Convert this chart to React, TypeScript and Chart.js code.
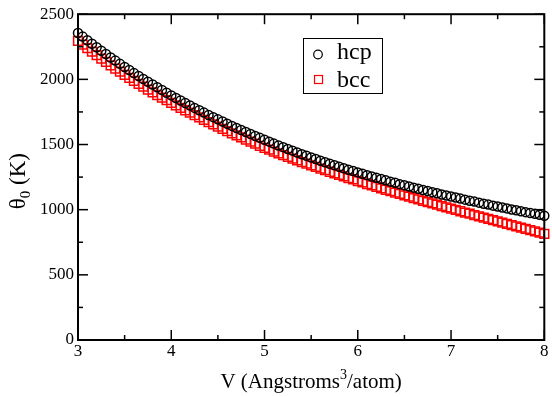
import React, { useEffect, useRef } from "react";
import { Chart, registerables } from "chart.js";

Chart.register(...registerables);

// ---- data ----
const volumes = [
  3.0, 3.05, 3.1, 3.15, 3.2, 3.25, 3.3, 3.35, 3.4, 3.45, 3.5,
  3.55, 3.6, 3.65, 3.7, 3.75, 3.8, 3.85, 3.9, 3.95, 4.0,
  4.05, 4.1, 4.15, 4.2, 4.25, 4.3, 4.35, 4.4, 4.45, 4.5,
  4.55, 4.6, 4.65, 4.7, 4.75, 4.8, 4.85, 4.9, 4.95, 5.0,
  5.05, 5.1, 5.15, 5.2, 5.25, 5.3, 5.35, 5.4, 5.45, 5.5,
  5.55, 5.6, 5.65, 5.7, 5.75, 5.8, 5.85, 5.9, 5.95, 6.0,
  6.05, 6.1, 6.15, 6.2, 6.25, 6.3, 6.35, 6.4, 6.45, 6.5,
  6.55, 6.6, 6.65, 6.7, 6.75, 6.8, 6.85, 6.9, 6.95, 7.0,
  7.05, 7.1, 7.15, 7.2, 7.25, 7.3, 7.35, 7.4, 7.45, 7.5,
  7.55, 7.6, 7.65, 7.7, 7.75, 7.8, 7.85, 7.9, 7.95, 8.0,
];

const hcpTheta = [
  2356, 2328, 2300, 2273, 2246, 2220, 2194, 2168, 2144, 2119, 2095,
  2072, 2048, 2026, 2003, 1981, 1960, 1939, 1918, 1897, 1877,
  1857, 1838, 1819, 1800, 1781, 1763, 1745, 1727, 1710, 1693,
  1676, 1660, 1643, 1627, 1611, 1596, 1581, 1565, 1551, 1536,
  1522, 1507, 1493, 1480, 1466, 1453, 1439, 1426, 1414, 1401,
  1389, 1376, 1364, 1353, 1341, 1330, 1318, 1307, 1297, 1286,
  1276, 1265, 1255, 1245, 1235, 1225, 1215, 1206, 1196, 1187,
  1178, 1169, 1160, 1151, 1143, 1134, 1126, 1117, 1109, 1101,
  1093, 1085, 1077, 1069, 1062, 1054, 1046, 1039, 1031, 1024,
  1017, 1010, 1002, 995, 988, 981, 974, 968, 961, 954,
];

const bccTheta = [
  2295, 2267, 2239, 2212, 2186, 2159, 2134, 2108, 2083, 2059, 2035,
  2012, 1989, 1966, 1944, 1922, 1901, 1880, 1860, 1840, 1820,
  1801, 1782, 1763, 1744, 1726, 1708, 1690, 1672, 1654, 1637,
  1620, 1603, 1586, 1570, 1554, 1537, 1522, 1506, 1490, 1475,
  1461, 1446, 1432, 1419, 1405, 1392, 1378, 1365, 1353, 1340,
  1328, 1315, 1303, 1291, 1279, 1267, 1255, 1243, 1232, 1220,
  1209, 1197, 1186, 1175, 1164, 1153, 1142, 1131, 1121, 1110,
  1100, 1089, 1079, 1068, 1058, 1048, 1038, 1028, 1018, 1008,
  998, 988, 978, 969, 959, 949, 939, 929, 920, 910,
  900, 891, 881, 872, 862, 853, 843, 834, 824, 815,
];

const seriesLabels = ["hcp", "bcc"];
const xMajorTicks = [3, 4, 5, 6, 7, 8];
const xMinorTicks = [3.5, 4.5, 5.5, 6.5, 7.5];
const yMajorTicks = [0, 500, 1000, 1500, 2000, 2500];
const yMinorTicks = [250, 750, 1250, 1750, 2250];

const SERIF = "'Liberation Serif', 'Times New Roman', serif";
Chart.defaults.font.family = SERIF;

const decorPlugin = {
  id: "decor",
  afterDatasetsDraw(chart: any) {
    const { ctx, chartArea, scales } = chart;
    const { left, right, top, bottom } = chartArea;
    const xs = scales.x;
    const ys = scales.y;
    ctx.save();
    ctx.strokeStyle = "#000";
    ctx.lineWidth = 2;
    ctx.strokeRect(left, top, right - left, bottom - top);

    ctx.lineWidth = 1.5;
    const tick = (x1: number, y1: number, x2: number, y2: number) => {
      ctx.beginPath();
      ctx.moveTo(x1, y1);
      ctx.lineTo(x2, y2);
      ctx.stroke();
    };
    const MAJ = 10;
    const MIN = 5;
    xMajorTicks.forEach((v) => {
      const px = xs.getPixelForValue(v);
      tick(px, bottom, px, bottom - MAJ);
      tick(px, top, px, top + MAJ);
    });
    xMinorTicks.forEach((v) => {
      const px = xs.getPixelForValue(v);
      tick(px, bottom, px, bottom - MIN);
      tick(px, top, px, top + MIN);
    });
    yMajorTicks.forEach((v) => {
      const py = ys.getPixelForValue(v);
      tick(left, py, left + MAJ, py);
      tick(right, py, right - MAJ, py);
    });
    yMinorTicks.forEach((v) => {
      const py = ys.getPixelForValue(v);
      tick(left, py, left + MIN, py);
      tick(right, py, right - MIN, py);
    });

    // legend box
    const lx = 303, ly = 38, lw = 79, lh = 55;
    ctx.fillStyle = "#fff";
    ctx.fillRect(lx, ly, lw, lh);
    ctx.lineWidth = 1;
    ctx.strokeStyle = "#000";
    ctx.strokeRect(lx + 0.5, ly + 0.5, lw, lh);

    // legend symbols
    ctx.lineWidth = 1.2;
    ctx.beginPath();
    ctx.arc(318, 54.5, 4.3, 0, Math.PI * 2);
    ctx.strokeStyle = "#000";
    ctx.stroke();
    ctx.strokeStyle = "#ff0000";
    ctx.strokeRect(314.5, 75.5, 8, 8);

    ctx.fillStyle = "#000";
    ctx.font = `24px ${SERIF}`;
    ctx.textAlign = "left";
    ctx.textBaseline = "alphabetic";
    ctx.fillText(seriesLabels[0], 337, 58.5);
    ctx.fillText(seriesLabels[1], 337, 86.5);

    // x axis title with superscript
    const big = `21px ${SERIF}`;
    const small = `14px ${SERIF}`;
    const partA = "V (Angstroms";
    const sup = "3";
    const partB = "/atom)";
    ctx.font = big;
    const wA = ctx.measureText(partA).width;
    const wB = ctx.measureText(partB).width;
    ctx.font = small;
    const wS = ctx.measureText(sup).width;
    const total = wA + wS + wB;
    const cx = (left + right) / 2;
    let sx = cx - total / 2;
    const baseY = 388;
    ctx.font = big;
    ctx.fillText(partA, sx, baseY);
    sx += wA;
    ctx.font = small;
    ctx.fillText(sup, sx, baseY - 9);
    sx += wS;
    ctx.font = big;
    ctx.fillText(partB, sx, baseY);

    // y axis title with subscript
    ctx.save();
    ctx.translate(25, (top + bottom) / 2 + 4);
    ctx.rotate(-Math.PI / 2);
    const t1 = "\u03b8";
    const t2 = "0";
    const t3 = " (K)";
    ctx.font = `23px ${SERIF}`;
    const w1 = ctx.measureText(t1).width;
    const w3 = ctx.measureText(t3).width;
    ctx.font = `15px ${SERIF}`;
    const w2 = ctx.measureText(t2).width;
    let tx = -(w1 + w2 + w3) / 2;
    ctx.font = `23px ${SERIF}`;
    ctx.fillText(t1, tx, 0);
    tx += w1;
    ctx.font = `15px ${SERIF}`;
    ctx.fillText(t2, tx, 5);
    tx += w2;
    ctx.font = `23px ${SERIF}`;
    ctx.fillText(t3, tx, 0);
    ctx.restore();

    ctx.restore();
  },
};

export default function App() {
  const canvasRef = useRef<HTMLCanvasElement | null>(null);

  useEffect(() => {
    const canvas = canvasRef.current;
    if (!canvas) return;
    const chart = new Chart(canvas, {
      type: "scatter",
      data: {
        datasets: [
          {
            label: seriesLabels[0],
            data: volumes.map((v, i) => ({ x: v, y: hcpTheta[i] })),
            pointStyle: "circle",
            pointRadius: 4.5,
            borderWidth: 1.5,
            borderColor: "#000",
            backgroundColor: "rgba(0,0,0,0)",
            showLine: false,
            clip: false,
          },
          {
            label: seriesLabels[1],
            data: volumes.map((v, i) => ({ x: v, y: bccTheta[i] })),
            pointStyle: "rect",
            pointRadius: 6.2,
            borderWidth: 1.5,
            borderColor: "#ff0000",
            backgroundColor: "rgba(0,0,0,0)",
            showLine: false,
            clip: false,
          },
        ],
      },
      options: {
        animation: false,
        responsive: true,
        maintainAspectRatio: false,
        layout: { padding: { top: 11, right: 5, bottom: 0, left: 0 } },
        plugins: {
          legend: { display: false },
          tooltip: { enabled: false },
        },
        scales: {
          x: {
            type: "linear",
            min: 3,
            max: 8,
            afterBuildTicks: (scale: any) => {
              scale.ticks = xMajorTicks.map((v) => ({ value: v }));
            },
            afterFit: (scale: any) => {
              scale.height = 57;
            },
            grid: { display: false, drawTicks: false },
            border: { display: false },
            ticks: {
              color: "#000",
              padding: 1,
              font: { family: SERIF, size: 17 },
              callback: (v: any) => String(v),
            },
          },
          y: {
            type: "linear",
            min: 0,
            max: 2500,
            afterBuildTicks: (scale: any) => {
              scale.ticks = yMajorTicks.map((v) => ({ value: v }));
            },
            afterFit: (scale: any) => {
              scale.width = 78;
            },
            grid: { display: false, drawTicks: false },
            border: { display: false },
            ticks: {
              color: "#000",
              padding: 4,
              font: { family: SERIF, size: 17 },
              callback: (v: any) => String(v),
            },
          },
        },
      },
      plugins: [decorPlugin],
    } as any);
    return () => chart.destroy();
  }, []);

  return (
    <div
      style={{
        position: "fixed",
        left: 0,
        top: 0,
        width: 552,
        height: 397,
        background: "#fff",
      }}
    >
      <canvas ref={canvasRef} />
    </div>
  );
}
